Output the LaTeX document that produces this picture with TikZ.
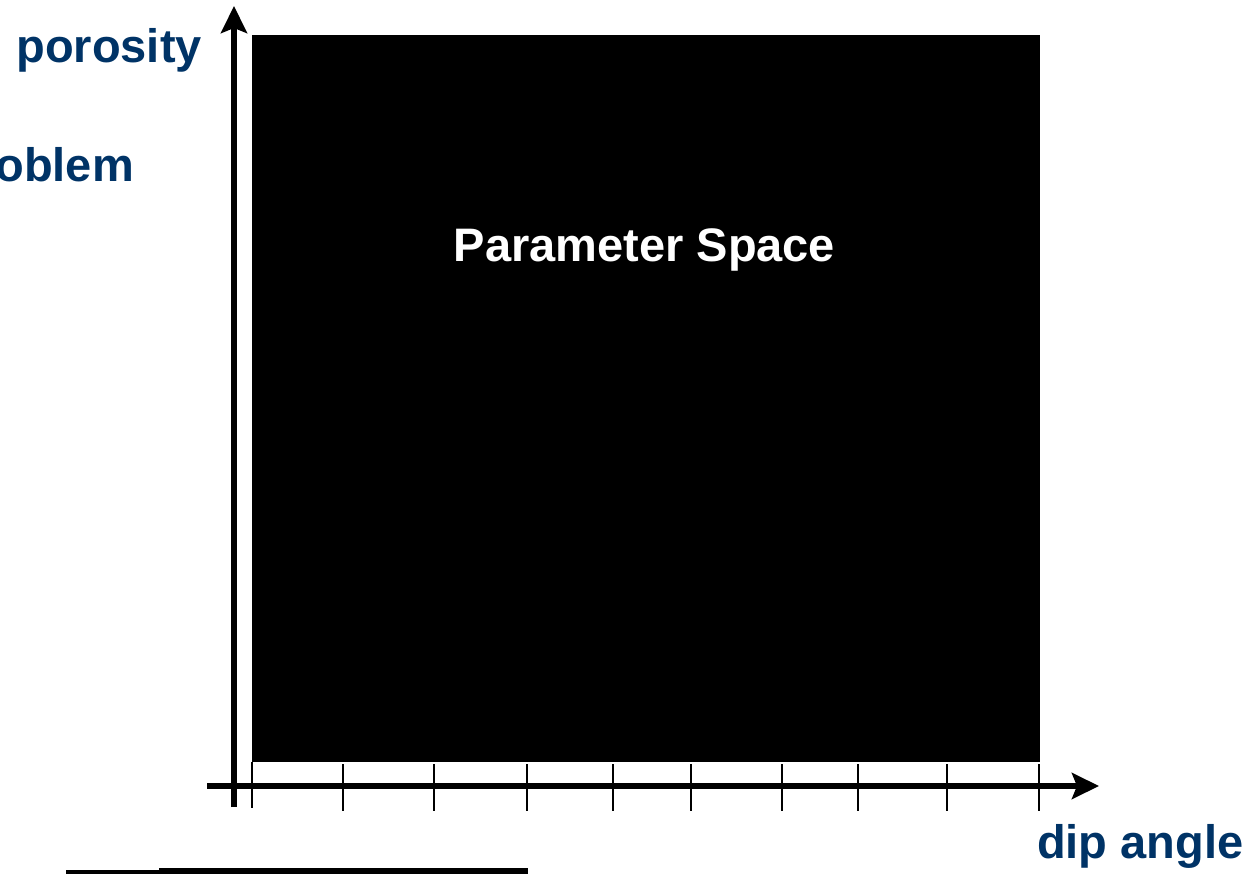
\documentclass[tikz,border=0pt]{standalone}
\usepackage{fontspec}
\setmainfont{Liberation Sans}
\usetikzlibrary{arrows.meta}
\definecolor{labelblue}{RGB}{0,51,102}
\begin{document}
\begin{tikzpicture}[x=1pt,y=-1pt,
  axisline/.style={line width=5.5pt,-{Stealth[length=27pt,width=26pt,inset=5pt]}},
  tickline/.style={line width=1.8pt},
  axislabel/.style={text=labelblue,font=\bfseries\fontsize{47}{50}\selectfont,inner sep=0pt},
  spacelabel/.style={text=white,font=\bfseries\fontsize{47}{50}\selectfont,inner sep=0pt}]
\useasboundingbox (0,0) rectangle (1259,874);
% parameter space
\node[fill=black,draw=none,minimum width=788pt,minimum height=727pt,inner sep=0pt,anchor=north west] (space) at (252,35) {};
\node[spacelabel,anchor=base] (spacetext) at (644.5,262) {Parameter Space};
% axes
\coordinate (yfrom) at (234,807);
\coordinate (yto) at (234,6);
\coordinate (xfrom) at (207,786);
\coordinate (xto) at (1099,786);
\draw[axisline] (yfrom) -- (yto);
\draw[axisline] (xfrom) -- (xto);
% ticks
\draw[tickline] (252,762) -- (252,808);
\foreach \tx in {343,434,527,613,691,782,858,947,1039}{
  \draw[tickline] (\tx,764) -- (\tx,811);
}
% labels
\node[axislabel,anchor=base east] (ylabel) at (202,63) {porosity};
\node[axislabel,anchor=base east] (problem) at (134,182) {oblem};
\node[axislabel,anchor=base west] (xlabel) at (1037,858) {dip angle};
% bottom rule
\fill[black] (66,870) rectangle (160,874);
\fill[black] (159,868) rectangle (528,874);
\end{tikzpicture}
\end{document}
